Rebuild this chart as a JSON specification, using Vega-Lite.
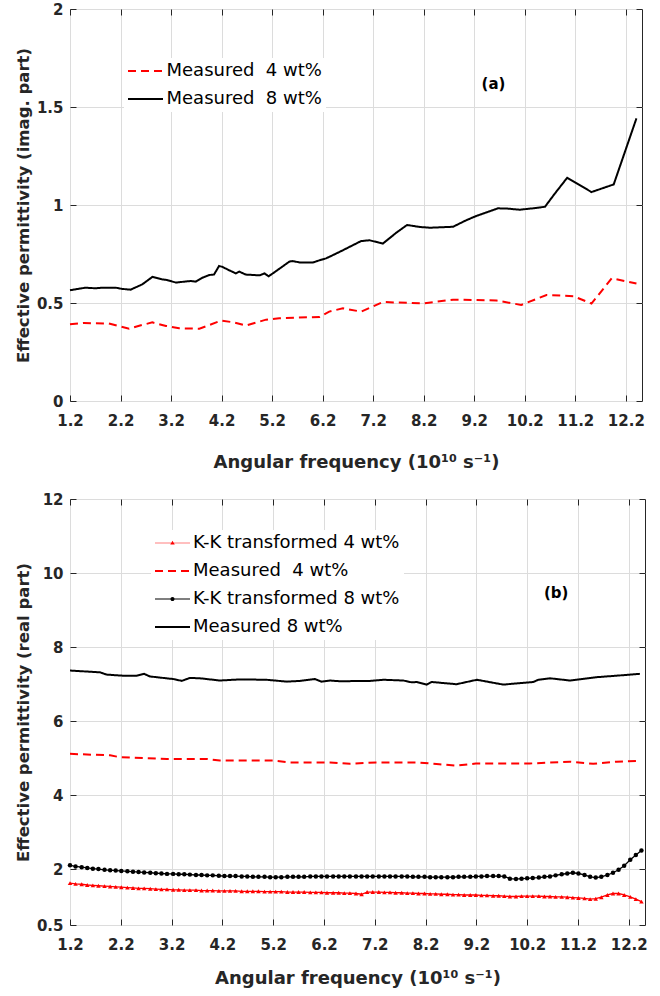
{
  "$schema": "https://vega.github.io/schema/vega-lite/v6.json",
  "autosize": {"type": "pad"},
  "padding": {"left": 14, "top": 1, "right": 0, "bottom": 0},
  "background": "white",
  "spacing": 19,
  "config": {
    "font": "DejaVu Sans",
    "view": {"stroke": "#262626", "strokeWidth": 1},
    "axis": {
      "labelFont": "DejaVu Sans", "labelFontSize": 15, "labelFontWeight": "bold", "labelColor": "#262626",
      "titleFont": "DejaVu Sans", "titleFontSize": 17, "titleFontWeight": "bold", "titleColor": "#262626",
      "gridColor": "#dcdcdc", "gridWidth": 1, "tickColor": "#262626", "tickSize": -6, "tickWidth": 1,
      "domain": false, "labelOverlap": false, "labelFlush": false
    }
  },
  "datasets": {
    "top": [
      {"f":1.2,"s":"a8","v":0.565},{"f":1.38,"s":"a8","v":0.573},{"f":1.51,"s":"a8","v":0.578},{"f":1.71,"s":"a8","v":0.575},
      {"f":1.83,"s":"a8","v":0.578},{"f":2.11,"s":"a8","v":0.578},{"f":2.23,"s":"a8","v":0.572},{"f":2.40,"s":"a8","v":0.568},
      {"f":2.63,"s":"a8","v":0.595},{"f":2.83,"s":"a8","v":0.633},{"f":3.02,"s":"a8","v":0.621},{"f":3.12,"s":"a8","v":0.617},
      {"f":3.30,"s":"a8","v":0.604},{"f":3.46,"s":"a8","v":0.609},{"f":3.59,"s":"a8","v":0.612},{"f":3.69,"s":"a8","v":0.609},
      {"f":3.82,"s":"a8","v":0.629},{"f":3.96,"s":"a8","v":0.643},{"f":4.05,"s":"a8","v":0.645},{"f":4.15,"s":"a8","v":0.689},
      {"f":4.21,"s":"a8","v":0.685},{"f":4.35,"s":"a8","v":0.667},{"f":4.41,"s":"a8","v":0.66},{"f":4.48,"s":"a8","v":0.651},
      {"f":4.55,"s":"a8","v":0.66},{"f":4.68,"s":"a8","v":0.645},{"f":4.95,"s":"a8","v":0.641},{"f":5.05,"s":"a8","v":0.651},
      {"f":5.13,"s":"a8","v":0.636},{"f":5.28,"s":"a8","v":0.663},{"f":5.54,"s":"a8","v":0.711},{"f":5.60,"s":"a8","v":0.714},
      {"f":5.77,"s":"a8","v":0.706},{"f":6.00,"s":"a8","v":0.706},{"f":6.14,"s":"a8","v":0.718},{"f":6.27,"s":"a8","v":0.728},
      {"f":6.45,"s":"a8","v":0.75},{"f":6.60,"s":"a8","v":0.769},{"f":6.96,"s":"a8","v":0.816},{"f":7.13,"s":"a8","v":0.82},
      {"f":7.39,"s":"a8","v":0.803},{"f":7.66,"s":"a8","v":0.859},{"f":7.87,"s":"a8","v":0.898},{"f":8.12,"s":"a8","v":0.888},
      {"f":8.32,"s":"a8","v":0.884},{"f":8.78,"s":"a8","v":0.889},{"f":9.04,"s":"a8","v":0.922},{"f":9.24,"s":"a8","v":0.944},
      {"f":9.67,"s":"a8","v":0.983},{"f":9.84,"s":"a8","v":0.982},{"f":10.10,"s":"a8","v":0.976},{"f":10.36,"s":"a8","v":0.983},
      {"f":10.60,"s":"a8","v":0.991},{"f":10.80,"s":"a8","v":1.06},{"f":11.04,"s":"a8","v":1.139},{"f":11.52,"s":"a8","v":1.066},
      {"f":11.96,"s":"a8","v":1.105},{"f":12.41,"s":"a8","v":1.442},
      {"f":1.2,"s":"a4","v":0.391},{"f":1.48,"s":"a4","v":0.398},{"f":1.97,"s":"a4","v":0.395},{"f":2.37,"s":"a4","v":0.369},
      {"f":2.63,"s":"a4","v":0.388},{"f":2.83,"s":"a4","v":0.401},{"f":3.10,"s":"a4","v":0.383},{"f":3.36,"s":"a4","v":0.371},
      {"f":3.76,"s":"a4","v":0.369},{"f":4.19,"s":"a4","v":0.41},{"f":4.42,"s":"a4","v":0.402},{"f":4.68,"s":"a4","v":0.385},
      {"f":5.08,"s":"a4","v":0.415},{"f":5.34,"s":"a4","v":0.422},{"f":6.14,"s":"a4","v":0.429},{"f":6.33,"s":"a4","v":0.456},
      {"f":6.60,"s":"a4","v":0.473},{"f":6.96,"s":"a4","v":0.456},{"f":7.39,"s":"a4","v":0.505},{"f":8.18,"s":"a4","v":0.498},
      {"f":8.78,"s":"a4","v":0.517},{"f":9.64,"s":"a4","v":0.513},{"f":10.13,"s":"a4","v":0.49},{"f":10.63,"s":"a4","v":0.541},
      {"f":11.16,"s":"a4","v":0.535},{"f":11.52,"s":"a4","v":0.497},{"f":11.92,"s":"a4","v":0.626},{"f":12.41,"s":"a4","v":0.599}
    ],
    "bm": [
      {"f":1.2,"s":"m8","v":7.37},{"f":1.79,"s":"m8","v":7.32},{"f":1.92,"s":"m8","v":7.26},{"f":2.24,"s":"m8","v":7.23},
      {"f":2.51,"s":"m8","v":7.23},{"f":2.66,"s":"m8","v":7.28},{"f":2.77,"s":"m8","v":7.21},{"f":3.23,"s":"m8","v":7.14},
      {"f":3.40,"s":"m8","v":7.09},{"f":3.56,"s":"m8","v":7.17},{"f":3.76,"s":"m8","v":7.16},{"f":4.15,"s":"m8","v":7.10},
      {"f":4.55,"s":"m8","v":7.13},{"f":5.07,"s":"m8","v":7.12},{"f":5.47,"s":"m8","v":7.07},{"f":5.73,"s":"m8","v":7.09},
      {"f":6.02,"s":"m8","v":7.14},{"f":6.15,"s":"m8","v":7.07},{"f":6.32,"s":"m8","v":7.10},{"f":6.51,"s":"m8","v":7.08},
      {"f":7.11,"s":"m8","v":7.09},{"f":7.37,"s":"m8","v":7.12},{"f":7.76,"s":"m8","v":7.10},{"f":7.93,"s":"m8","v":7.05},
      {"f":8.03,"s":"m8","v":7.06},{"f":8.22,"s":"m8","v":6.99},{"f":8.32,"s":"m8","v":7.06},{"f":8.81,"s":"m8","v":7.00},
      {"f":9.21,"s":"m8","v":7.12},{"f":9.73,"s":"m8","v":6.99},{"f":10.32,"s":"m8","v":7.06},{"f":10.42,"s":"m8","v":7.12},
      {"f":10.65,"s":"m8","v":7.16},{"f":11.04,"s":"m8","v":7.10},{"f":11.57,"s":"m8","v":7.19},{"f":11.96,"s":"m8","v":7.23},
      {"f":12.42,"s":"m8","v":7.28},
      {"f":1.2,"s":"m4","v":5.12},{"f":1.99,"s":"m4","v":5.08},{"f":2.18,"s":"m4","v":5.03},{"f":3.11,"s":"m4","v":4.98},
      {"f":3.90,"s":"m4","v":4.98},{"f":4.15,"s":"m4","v":4.94},{"f":5.20,"s":"m4","v":4.94},{"f":5.53,"s":"m4","v":4.89},
      {"f":6.32,"s":"m4","v":4.89},{"f":6.71,"s":"m4","v":4.85},{"f":7.23,"s":"m4","v":4.89},{"f":8.02,"s":"m4","v":4.89},
      {"f":8.47,"s":"m4","v":4.84},{"f":8.80,"s":"m4","v":4.80},{"f":9.19,"s":"m4","v":4.86},{"f":10.25,"s":"m4","v":4.86},
      {"f":11.04,"s":"m4","v":4.91},{"f":11.50,"s":"m4","v":4.85},{"f":11.96,"s":"m4","v":4.91},{"f":12.42,"s":"m4","v":4.93}
    ],
    "bk": [
      {"f":1.20,"k4":1.63,"k8":2.11},{"f":1.31,"k4":1.61,"k8":2.08},{"f":1.43,"k4":1.60,"k8":2.06},{"f":1.54,"k4":1.58,"k8":2.04},
      {"f":1.65,"k4":1.57,"k8":2.02},{"f":1.76,"k4":1.56,"k8":2.01},{"f":1.88,"k4":1.55,"k8":1.99},{"f":1.99,"k4":1.54,"k8":1.98},
      {"f":2.10,"k4":1.53,"k8":1.97},{"f":2.21,"k4":1.52,"k8":1.96},{"f":2.33,"k4":1.51,"k8":1.95},{"f":2.44,"k4":1.50,"k8":1.94},
      {"f":2.55,"k4":1.49,"k8":1.93},{"f":2.66,"k4":1.49,"k8":1.92},{"f":2.78,"k4":1.48,"k8":1.91},{"f":2.89,"k4":1.47,"k8":1.90},
      {"f":3.00,"k4":1.46,"k8":1.89},{"f":3.11,"k4":1.46,"k8":1.88},{"f":3.23,"k4":1.45,"k8":1.88},{"f":3.34,"k4":1.45,"k8":1.87},
      {"f":3.45,"k4":1.44,"k8":1.87},{"f":3.56,"k4":1.44,"k8":1.86},{"f":3.68,"k4":1.44,"k8":1.85},{"f":3.79,"k4":1.43,"k8":1.85},
      {"f":3.90,"k4":1.43,"k8":1.84},{"f":4.01,"k4":1.43,"k8":1.84},{"f":4.13,"k4":1.42,"k8":1.83},{"f":4.24,"k4":1.42,"k8":1.82},
      {"f":4.35,"k4":1.42,"k8":1.82},{"f":4.46,"k4":1.42,"k8":1.82},{"f":4.58,"k4":1.41,"k8":1.81},{"f":4.69,"k4":1.41,"k8":1.81},
      {"f":4.80,"k4":1.41,"k8":1.80},{"f":4.91,"k4":1.41,"k8":1.80},{"f":5.03,"k4":1.40,"k8":1.80},{"f":5.14,"k4":1.40,"k8":1.79},
      {"f":5.25,"k4":1.40,"k8":1.79},{"f":5.36,"k4":1.40,"k8":1.79},{"f":5.48,"k4":1.39,"k8":1.80},{"f":5.59,"k4":1.39,"k8":1.80},
      {"f":5.70,"k4":1.39,"k8":1.80},{"f":5.81,"k4":1.39,"k8":1.80},{"f":5.93,"k4":1.38,"k8":1.81},{"f":6.04,"k4":1.38,"k8":1.81},
      {"f":6.15,"k4":1.38,"k8":1.81},{"f":6.26,"k4":1.37,"k8":1.81},{"f":6.38,"k4":1.37,"k8":1.81},{"f":6.49,"k4":1.37,"k8":1.81},
      {"f":6.60,"k4":1.36,"k8":1.81},{"f":6.71,"k4":1.36,"k8":1.81},{"f":6.83,"k4":1.35,"k8":1.81},{"f":6.94,"k4":1.33,"k8":1.81},
      {"f":7.05,"k4":1.39,"k8":1.81},{"f":7.16,"k4":1.39,"k8":1.81},{"f":7.28,"k4":1.39,"k8":1.81},{"f":7.39,"k4":1.38,"k8":1.81},
      {"f":7.50,"k4":1.38,"k8":1.81},{"f":7.61,"k4":1.37,"k8":1.81},{"f":7.73,"k4":1.37,"k8":1.81},{"f":7.84,"k4":1.36,"k8":1.81},
      {"f":7.95,"k4":1.36,"k8":1.80},{"f":8.06,"k4":1.35,"k8":1.80},{"f":8.18,"k4":1.35,"k8":1.80},{"f":8.29,"k4":1.34,"k8":1.79},
      {"f":8.40,"k4":1.34,"k8":1.79},{"f":8.51,"k4":1.33,"k8":1.79},{"f":8.63,"k4":1.33,"k8":1.79},{"f":8.74,"k4":1.32,"k8":1.79},
      {"f":8.85,"k4":1.32,"k8":1.80},{"f":8.96,"k4":1.31,"k8":1.80},{"f":9.08,"k4":1.31,"k8":1.80},{"f":9.19,"k4":1.31,"k8":1.81},
      {"f":9.30,"k4":1.30,"k8":1.81},{"f":9.41,"k4":1.30,"k8":1.82},{"f":9.53,"k4":1.29,"k8":1.82},{"f":9.64,"k4":1.29,"k8":1.82},
      {"f":9.75,"k4":1.28,"k8":1.81},{"f":9.86,"k4":1.27,"k8":1.75},{"f":9.98,"k4":1.27,"k8":1.74},{"f":10.09,"k4":1.28,"k8":1.75},
      {"f":10.20,"k4":1.28,"k8":1.76},{"f":10.31,"k4":1.28,"k8":1.77},{"f":10.43,"k4":1.28,"k8":1.78},{"f":10.54,"k4":1.27,"k8":1.80},
      {"f":10.65,"k4":1.27,"k8":1.81},{"f":10.76,"k4":1.26,"k8":1.84},{"f":10.88,"k4":1.26,"k8":1.87},{"f":10.99,"k4":1.25,"k8":1.89},
      {"f":11.10,"k4":1.24,"k8":1.91},{"f":11.21,"k4":1.23,"k8":1.89},{"f":11.33,"k4":1.22,"k8":1.85},{"f":11.44,"k4":1.20,"k8":1.80},
      {"f":11.55,"k4":1.21,"k8":1.78},{"f":11.66,"k4":1.25,"k8":1.80},{"f":11.78,"k4":1.31,"k8":1.85},{"f":11.89,"k4":1.35,"k8":1.91},
      {"f":12.00,"k4":1.35,"k8":1.99},{"f":12.11,"k4":1.31,"k8":2.10},{"f":12.23,"k4":1.26,"k8":2.26},{"f":12.34,"k4":1.20,"k8":2.39},
      {"f":12.45,"k4":1.13,"k8":2.51}
    ]
  },
  "resolve": {"scale": {"color": "independent", "strokeDash": "independent", "x": "independent", "y": "independent", "shape": "independent"}},
  "vconcat": [
    {
      "width": 572,
      "height": 392,
      "resolve": {"axis": {"x": "independent", "y": "independent"}},
      "layer": [
        {
          "data": {"name": "top"},
          "mark": {"type": "line", "strokeWidth": 2},
          "encoding": {
            "x": {"field": "f", "type": "quantitative", "scale": {"domain": [1.2, 12.52], "nice": false, "zero": false},
              "axis": {"orient": "bottom", "values": [1.2,2.2,3.2,4.2,5.2,6.2,7.2,8.2,9.2,10.2,11.2,12.2], "format": ".1f", "grid": true, "labelPadding": 18, "titlePadding": 25, "titleFontSize": 18, "title": "Angular frequency (10¹⁰ s⁻¹)"}},
            "y": {"field": "v", "type": "quantitative", "scale": {"domain": [0, 2], "nice": false, "zero": false},
              "axis": {"orient": "left", "values": [0,0.5,1,1.5,2], "format": "~g", "grid": true, "labelPadding": 13, "titlePadding": 5, "titleFontSize": 16.5, "title": "Effective permittivity (imag. part)"}},
            "color": {"field": "s", "type": "nominal", "scale": {"domain": ["a4", "a8"], "range": ["#ff0000", "#000000"]},
              "legend": {"orient": "none", "legendX": 54, "legendY": 49, "title": null, "fillColor": "white", "padding": 4,
                "symbolType": "M-3.5,0H3.5", "symbolSize": 100, "symbolStrokeWidth": 2, "symbolOffset": 8.5, "labelOffset": 12,
                "labelFontSize": 18, "labelFont": "DejaVu Sans", "labelColor": "black", "labelLimit": 400, "rowPadding": 10,
                "labelExpr": "datum.value === 'a4' ? 'Measured\u00a0 4 wt%' : 'Measured\u00a0 8 wt%'"}},
            "strokeDash": {"field": "s", "type": "nominal", "scale": {"domain": ["a4", "a8"], "range": [[8, 5], [1, 0]]}}
          }
        },
        {
          "data": {"values": [{"f": 9.58, "v": 1.616, "t": "(a)"}]},
          "mark": {"type": "text", "font": "DejaVu Sans", "fontWeight": "bold", "fontSize": 15, "color": "#000000"},
          "encoding": {
            "x": {"field": "f", "type": "quantitative", "axis": {"orient": "top", "values": [1.2,2.2,3.2,4.2,5.2,6.2,7.2,8.2,9.2,10.2,11.2,12.2], "labels": false, "grid": false, "title": null}},
            "y": {"field": "v", "type": "quantitative", "axis": {"orient": "right", "values": [0,0.5,1,1.5,2], "labels": false, "grid": false, "title": null}},
            "text": {"field": "t"}
          }
        }
      ]
    },
    {
      "width": 575,
      "height": 426,
      "resolve": {"axis": {"x": "independent", "y": "independent"}},
      "layer": [
        {
          "data": {"name": "bm"},
          "mark": {"type": "line", "strokeWidth": 2},
          "encoding": {
            "x": {"field": "f", "type": "quantitative", "scale": {"domain": [1.2, 12.52], "nice": false, "zero": false},
              "axis": {"orient": "bottom", "values": [1.2,2.2,3.2,4.2,5.2,6.2,7.2,8.2,9.2,10.2,11.2,12.2], "format": ".1f", "grid": true, "labelPadding": 18, "titlePadding": 17, "titleFontSize": 18, "title": "Angular frequency (10¹⁰ s⁻¹)"}},
            "y": {"field": "v", "type": "quantitative", "scale": {"domain": [0.5, 12], "nice": false, "zero": false},
              "axis": {"orient": "left", "values": [0.5,2,4,6,8,10,12], "format": "~g", "grid": true, "labelPadding": 13, "titlePadding": 5, "titleFontSize": 16.5, "title": "Effective permittivity (real part)"}},
            "color": {"field": "s", "type": "nominal", "scale": {"domain": ["k4", "m4", "k8", "m8"], "range": ["#ff0000", "#ff0000", "#000000", "#000000"]},
              "legend": {"orient": "none", "legendX": 81, "legendY": 31, "title": null, "fillColor": "white", "padding": 4,
                "symbolType": "M-3.5,0H3.5", "symbolSize": 100, "symbolStrokeWidth": 2, "symbolOffset": 8.5, "labelOffset": 11.5,
                "labelFontSize": 18, "labelFont": "DejaVu Sans", "labelColor": "black", "labelLimit": 400, "rowPadding": 10,
                "labelExpr": "datum.value === 'k4' ? 'K-K transformed 4 wt%' : datum.value === 'm4' ? 'Measured\u00a0 4 wt%' : datum.value === 'k8' ? 'K-K transformed 8 wt%' : 'Measured 8 wt%'",
                "encode": {"symbols": {"update": {
                  "shape": {"signal": "datum.value === 'k4' ? 'M-3.5,-0.07H3.5V0.07H-3.5ZM-0.45,0.3L0,-0.45L0.45,0.3Z' : datum.value === 'k8' ? 'M-3.5,-0.08H3.5V0.08H-3.5ZM-0.42,0A0.42,0.42,0,1,1,0.42,0A0.42,0.42,0,1,1,-0.42,0Z' : 'M-3.5,0H3.5'"},
                  "fill": {"signal": "datum.value === 'k4' ? '#ff0000' : datum.value === 'k8' ? '#3a3a3a' : 'transparent'"},
                  "stroke": {"signal": "datum.value === 'm4' ? '#ff0000' : datum.value === 'm8' ? '#000000' : 'transparent'"},
                  "strokeOpacity": {"signal": "datum.value === 'm4' || datum.value === 'm8' ? 1 : 0"}
                }}}}},
            "strokeDash": {"field": "s", "type": "nominal", "scale": {"domain": ["k4", "m4", "k8", "m8"], "range": [[1, 0], [8, 5], [1, 0], [1, 0]]}}
          }
        },
        {
          "data": {"name": "bk"},
          "transform": [{"fold": ["k4", "k8"], "as": ["s", "v"]}],
          "mark": {"type": "line", "strokeWidth": 1.3},
          "encoding": {
            "x": {"field": "f", "type": "quantitative", "axis": null},
            "y": {"field": "v", "type": "quantitative", "axis": null},
            "color": {"field": "s", "type": "nominal"}
          }
        },
        {
          "data": {"name": "bk"},
          "transform": [{"fold": ["k4", "k8"], "as": ["s", "v"]}],
          "mark": {"type": "point", "filled": true, "opacity": 1, "size": 20},
          "encoding": {
            "x": {"field": "f", "type": "quantitative", "axis": null},
            "y": {"field": "v", "type": "quantitative", "axis": null},
            "color": {"field": "s", "type": "nominal"},
            "shape": {"field": "s", "type": "nominal", "scale": {"domain": ["k4", "k8"], "range": ["triangle-up", "circle"]}, "legend": null}
          }
        },
        {
          "data": {"values": [{"f": 10.77, "v": 9.47, "t": "(b)"}]},
          "mark": {"type": "text", "font": "DejaVu Sans", "fontWeight": "bold", "fontSize": 15, "color": "#000000"},
          "encoding": {
            "x": {"field": "f", "type": "quantitative", "axis": {"orient": "top", "values": [1.2,2.2,3.2,4.2,5.2,6.2,7.2,8.2,9.2,10.2,11.2,12.2], "labels": false, "grid": false, "title": null}},
            "y": {"field": "v", "type": "quantitative", "axis": {"orient": "right", "values": [0.5,2,4,6,8,10,12], "labels": false, "grid": false, "title": null}},
            "text": {"field": "t"}
          }
        }
      ]
    }
  ]
}
